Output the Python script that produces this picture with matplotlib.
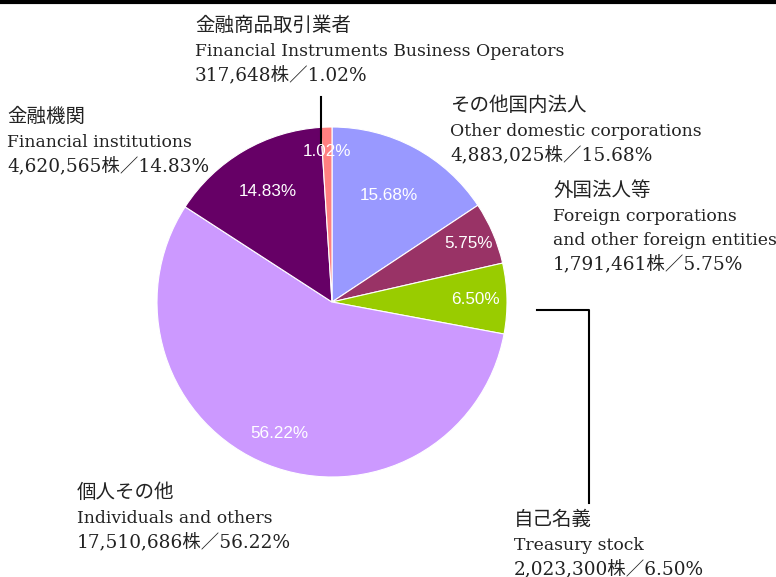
import matplotlib.pyplot as plt
import numpy as np

# Données (répartition des actionnaires)
values = [15.68, 5.75, 6.50, 56.22, 14.83, 1.02]
pct_labels = ["15.68%", "5.75%", "6.50%", "56.22%", "14.83%", "1.02%"]
colors = ["#9999FF", "#993366", "#99CC00", "#CC99FF", "#660066", "#FF8080"]
names_jp = ["その他国内法人", "外国法人等", "自己名義", "個人その他", "金融機関", "金融商品取引業者"]
names_en = [
    ["Other domestic corporations"],
    ["Foreign corporations", "and other foreign entities"],
    ["Treasury stock"],
    ["Individuals and others"],
    ["Financial institutions"],
    ["Financial Instruments Business Operators"],
]
shares = ["4,883,025株／15.68%", "1,791,461株／5.75%", "2,023,300株／6.50%",
          "17,510,686株／56.22%", "4,620,565株／14.83%", "317,648株／1.02%"]

W, H = 776, 577
fig = plt.figure(figsize=(W / 100, H / 100), dpi=100)
ax = fig.add_axes([0, 0, 1, 1])

cx, cy, r = 332, H - 302, 175

wedges, _ = ax.pie(
    values,
    colors=colors,
    startangle=90,
    counterclock=False,
    center=(cx, cy),
    radius=r,
    wedgeprops=dict(edgecolor="white", linewidth=0.8),
    frame=True,
)
ax.set_xlim(0, W)
ax.set_ylim(0, H)
ax.axis("off")

# Étiquettes dans les secteurs
label_dist = [0.69, 0.85, 0.82, 0.81, 0.73, 0.86]
for w, txt, d in zip(wedges, pct_labels, label_dist):
    ang = np.deg2rad((w.theta1 + w.theta2) / 2)
    ax.text(cx + d * r * np.cos(ang), cy + d * r * np.sin(ang), txt,
            color="white", fontsize=12.3, family="Liberation Sans",
            ha="center", va="center")

# Étiquettes extérieures (x gauche, y du centre de la première ligne)
label_pos = [(450, 104), (553, 189), (514, 518), (77, 491), (7, 115), (195, 24)]
step = 24.6
txt_color = "#222222"
for (x, y), jp, en, sh in zip(label_pos, names_jp, names_en, shares):
    base = y + 7
    ax.text(x, H - base, jp, fontsize=14, family="Noto Sans CJK JP",
            color=txt_color, ha="left", va="baseline")
    for i, line in enumerate(en):
        ax.text(x, H - (base + step * (i + 1)), line, fontsize=12.4,
                family="DejaVu Serif", color=txt_color, ha="left", va="baseline")
    ax.text(x, H - (base + step * (len(en) + 1)), sh, fontsize=13.3,
            family=["DejaVu Serif", "Noto Sans CJK JP"], color=txt_color,
            ha="left", va="baseline")

# Lignes de rappel
ax.plot([321, 321], [H - 97, H - 145], color="black", lw=1.5)
ax.plot([537, 589, 589], [H - 310, H - 310, H - 503], color="black", lw=1.5)

# Trait en haut
ax.plot([0, W], [H - 1.5, H - 1.5], color="black", lw=3, solid_capstyle="butt")

fig.savefig("out.png", dpi=100)
